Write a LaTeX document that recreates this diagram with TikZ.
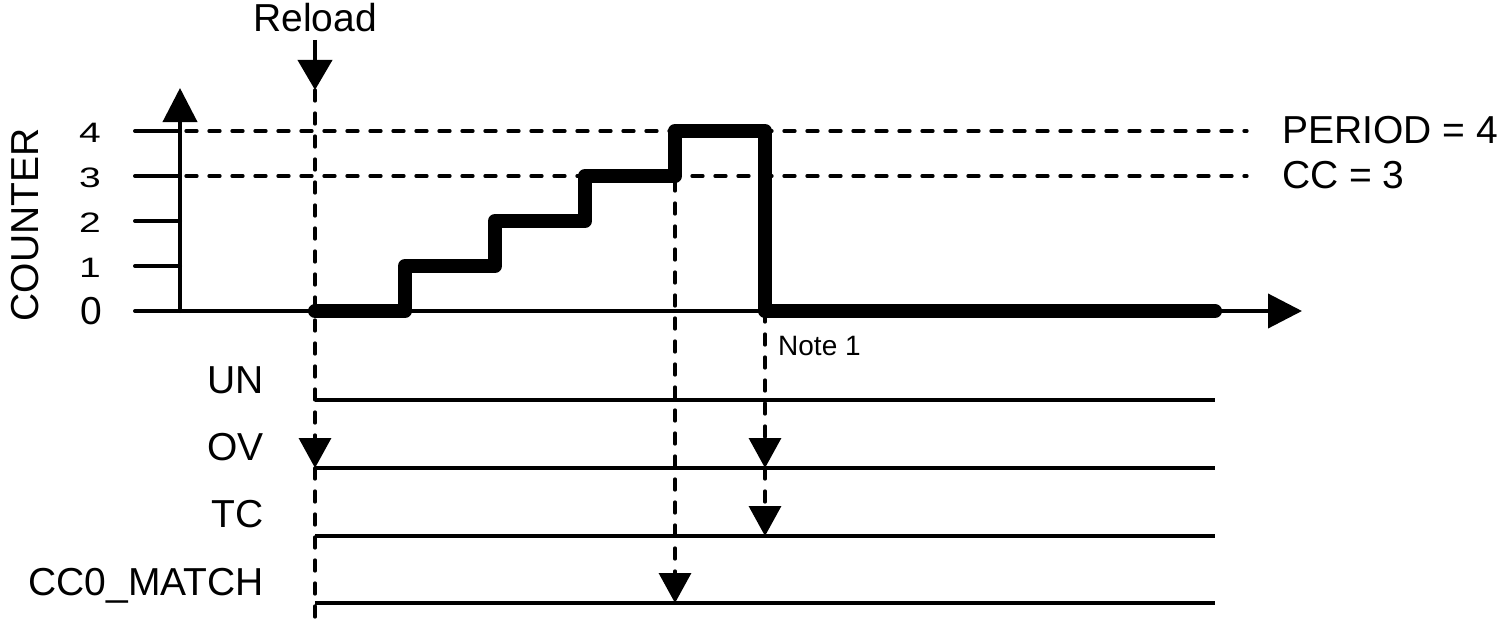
\documentclass[tikz,border=0pt]{standalone}
\usepackage{fontspec}
\setmainfont{Liberation Sans}
\usetikzlibrary{arrows.meta}

\newcommand{\flatdigit}[1]{\scalebox{1}[0.72]{#1}}

\begin{document}
\begin{tikzpicture}[x=1pt,y=-1pt,
  txt/.style={inner sep=0pt, font=\fontsize{39}{39}\selectfont},
  smalltxt/.style={inner sep=0pt, font=\fontsize{28}{28}\selectfont},
  axis/.style={line width=4pt, line cap=round},
  counter/.style={line width=14pt, line cap=round, line join=round},
  guide/.style={line width=3.3pt, line cap=round, dash pattern=on 11pt off 12pt},
  signal/.style={line width=4pt},
  axistip/.style={-{Triangle[length=34pt,width=34pt]}},
  evtip/.style={-{Triangle[length=30pt,width=32pt]}},
]
\useasboundingbox (0,0) rectangle (1501,626);

% ---- key positions ----
\coordinate (xstart) at (135,311);
\coordinate (origin) at (180,311);
\coordinate (xend)   at (1302,311);
\coordinate (yend)   at (180,88);
\coordinate (rtop)   at (315,40);
\coordinate (rtip)   at (315,90);
\coordinate (rbot)   at (315,626);
\coordinate (p4a) at (186,131);  \coordinate (p4b) at (1247,131);
\coordinate (p3a) at (186,176);  \coordinate (p3b) at (1247,176);
\coordinate (ccstart) at (675,180);
\coordinate (wrapstart) at (765,311);

% signal rows
\foreach \nm/\yy in {un/400, ov/468, tc/536, cc/603}{
  \coordinate (\nm L) at (315,\yy);
  \coordinate (\nm R) at (1215,\yy);
}
\coordinate (ovW) at (765,468);
\coordinate (tcW) at (765,536);
\coordinate (ccW) at (675,603);

% ---- axes ----
\draw[axis] (origin) -- (xstart);
\draw[axis,axistip] (origin) -- (xend);
\draw[axis,axistip] (origin) -- (yend);
\foreach \nm/\yy in {1/266, 2/221, 3/176, 4/131}{
  \coordinate (t\nm) at (135,\yy);
  \draw[axis] (t\nm) -- (180,\yy);
}

% tick labels
\node[txt] (l4) at (90,133) {\flatdigit{4}};
\node[txt] (l3) at (90,178) {\flatdigit{3}};
\node[txt] (l2) at (90,223) {\flatdigit{2}};
\node[txt] (l1) at (90,268) {\flatdigit{1}};
\node[txt] (l0) at (91,311) {0};
\node[txt, rotate=90] (ylabel) at (25,225) {COUNTER};

% ---- reload marker ----
\node[txt, anchor=base] (reload) at (315,32) {Reload};
\draw[line width=4pt, -{Triangle[length=30pt,width=34pt]}] (rtop) -- (rtip);

% ---- dashed guides ----
\draw[guide] (p4a) -- (p4b);
\draw[guide] (p3a) -- (p3b);
\node[txt, anchor=base west] (period) at (1282,143) {PERIOD = 4};
\node[txt, anchor=base west] (ccval)  at (1282,188) {CC = 3};

\draw[guide,evtip] (rtip) -- (ovL);
\draw[guide] (ovL) -- (rbot);
\draw[guide,evtip] (ccstart) -- (ccW);
\draw[guide,evtip] (wrapstart) -- (ovW);
\draw[guide,evtip] (ovW) -- (tcW);

% ---- counter value ----
\draw[counter] (315,311) -- (405,311) -- (405,266) -- (495,266) -- (495,221)
  -- (585,221) -- (585,176) -- (675,176) -- (675,131) -- (765,131)
  -- (765,311) -- (1215,311);

\node[smalltxt, anchor=base west] (note) at (778,355) {Note 1};

% ---- status signals ----
\foreach \nm in {un, ov, tc, cc}{
  \draw[signal] (\nm L) -- (\nm R);
}
\node[txt, anchor=base east] (unlab) at (264,393) {UN};
\node[txt, anchor=base east] (ovlab) at (264,460) {OV};
\node[txt, anchor=base east] (tclab) at (264,527) {TC};
\node[txt, anchor=base east] (cclab) at (264,595) {CC0\_MATCH};

\end{tikzpicture}
\end{document}
